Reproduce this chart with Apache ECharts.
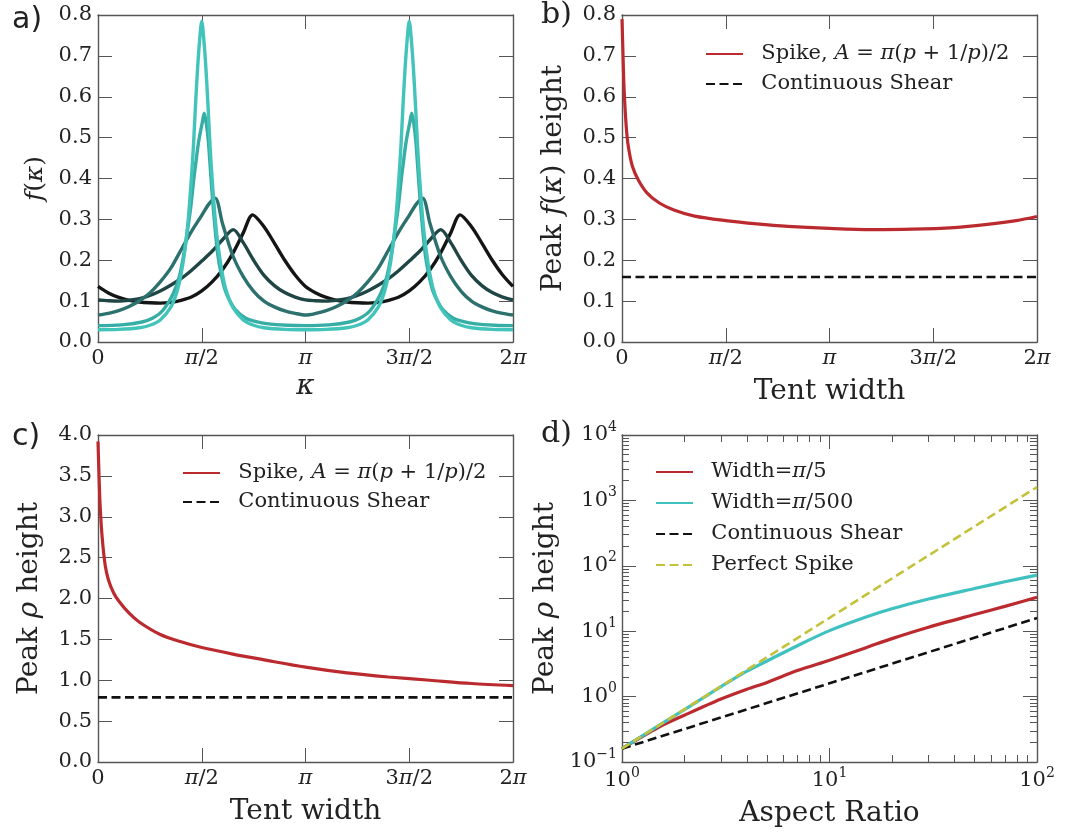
<!DOCTYPE html>
<html>
<head>
<meta charset="utf-8">
<script src="https://cdn.jsdelivr.net/npm/echarts@6/dist/echarts.min.js"></script>
<style>
  html, body { margin: 0; padding: 0; background: #fff; }
  #chart { width: 1081px; height: 839px; }
</style>
</head>
<body>
<div id="chart"></div>
<script>
// a) f(kappa) read over one period (kappa in units of pi), the 2nd period repeats it
const kappaA1 = [0, 0.1, 0.2, 0.25, 0.3, 0.35, 0.38, 0.4, 0.42, 0.435, 0.45, 0.46, 0.47, 0.48, 0.49, 0.5, 0.51, 0.52, 0.53, 0.54, 0.55, 0.565, 0.58, 0.6, 0.62, 0.65, 0.7, 0.75, 0.8, 0.9, 1.0];
const fA1 = [0.030, 0.031, 0.035, 0.041, 0.054, 0.085, 0.122, 0.165, 0.23, 0.30, 0.40, 0.48, 0.58, 0.67, 0.74, 0.785, 0.74, 0.67, 0.58, 0.48, 0.40, 0.30, 0.23, 0.165, 0.122, 0.085, 0.054, 0.041, 0.035, 0.031, 0.030];
const kappaA2 = [0, 0.112, 0.212, 0.262, 0.312, 0.362, 0.392, 0.412, 0.432, 0.447, 0.462, 0.472, 0.482, 0.492, 0.502, 0.512, 0.522, 0.532, 0.542, 0.552, 0.562, 0.577, 0.592, 0.612, 0.632, 0.662, 0.712, 0.762, 0.812, 0.912, 1.0];
const fA2 = [0.040, 0.042, 0.049, 0.058, 0.077, 0.118, 0.16, 0.21, 0.275, 0.33, 0.40, 0.44, 0.48, 0.51, 0.535, 0.56, 0.535, 0.49, 0.42, 0.35, 0.29, 0.215, 0.17, 0.128, 0.104, 0.079, 0.058, 0.05, 0.045, 0.041, 0.040];
const kappaA3 = [0, 0.05, 0.1, 0.15, 0.2, 0.25, 0.3, 0.35, 0.4, 0.45, 0.5, 0.535, 0.565, 0.6, 0.65, 0.7, 0.75, 0.8, 0.85, 0.9, 0.95, 1.0];
const fA3 = [0.066, 0.07, 0.077, 0.087, 0.101, 0.12, 0.147, 0.18, 0.225, 0.27, 0.31, 0.338, 0.352, 0.29, 0.211, 0.16, 0.124, 0.1, 0.086, 0.076, 0.07, 0.066];
const kappaA4 = [0, 0.05, 0.1, 0.15, 0.2, 0.25, 0.3, 0.35, 0.4, 0.45, 0.5, 0.55, 0.6, 0.652, 0.7, 0.75, 0.8, 0.85, 0.9, 0.95, 1.0];
const fA4 = [0.103, 0.101, 0.100, 0.102, 0.106, 0.114, 0.125, 0.139, 0.155, 0.175, 0.198, 0.222, 0.25, 0.275, 0.243, 0.2, 0.163, 0.138, 0.121, 0.11, 0.103];
const kappaA5 = [0, 0.05, 0.1, 0.15, 0.2, 0.25, 0.3, 0.35, 0.4, 0.45, 0.5, 0.55, 0.6, 0.65, 0.7, 0.745, 0.8, 0.85, 0.9, 0.95, 1.0];
const fA5 = [0.136, 0.12, 0.109, 0.102, 0.098, 0.096, 0.095, 0.097, 0.102, 0.11, 0.125, 0.147, 0.177, 0.217, 0.267, 0.311, 0.282, 0.242, 0.2, 0.164, 0.136];
const curveColors = ['#42c4ba', '#36ada5', '#2c716d', '#1f4544', '#141616'];

// b) peak f(kappa) height vs tent width (units of pi)
const tentB = [0, 0.005, 0.01, 0.02, 0.03, 0.05, 0.08, 0.12, 0.18, 0.25, 0.35, 0.5, 0.65, 0.8, 1.0, 1.2, 1.4, 1.6, 1.75, 1.9, 2.0];
const peakB = [0.79, 0.70, 0.62, 0.53, 0.48, 0.43, 0.395, 0.365, 0.34, 0.323, 0.308, 0.297, 0.289, 0.283, 0.278, 0.275, 0.276, 0.28, 0.287, 0.297, 0.307];
const shearB = 0.159;

// c) peak rho height vs tent width
const tentC = [0, 0.005, 0.01, 0.02, 0.035, 0.05, 0.075, 0.1, 0.15, 0.2, 0.3, 0.4, 0.5, 0.65, 0.8, 1.0, 1.2, 1.4, 1.6, 1.8, 2.0];
const peakC = [3.92, 3.5, 3.15, 2.75, 2.4, 2.23, 2.07, 1.97, 1.82, 1.71, 1.56, 1.47, 1.40, 1.32, 1.25, 1.16, 1.09, 1.04, 1.0, 0.96, 0.935];
const shearC = 0.79;

// d) peak rho height vs aspect ratio (log-log)
const aspectD = [1, 1.5, 2, 3, 4, 5, 7, 10, 15, 20, 30, 50, 70, 100];
const widthPi5 = [0.16, 0.34, 0.52, 0.92, 1.3, 1.65, 2.5, 3.6, 5.6, 7.7, 11.5, 18, 24, 33];
const widthPi500 = [0.16, 0.36, 0.63, 1.42, 2.45, 3.5, 6.0, 10.2, 16.5, 22, 31, 45, 57, 72];
const aspectEnds = [1, 100];
const shearD = [0.16, 15.9];
const perfectSpike = [0.16, 1600];

const SERIF = 'DejaVu Serif';
const TXT = '#222';
const AXIS = '#555';
const RED = '#bb2a2e';

const piTicks = { 0: '0', 0.5: '{i|π}/2', 1: '{i|π}', 1.5: '3{i|π}/2', 2: '2{i|π}' };
const sup = (v) => '{b|10}{s|' + (v < 0 ? '−' + (-v) : v) + '}';

const tickStyle = { color: AXIS, width: 1 };
const labelRich = {
  i: { fontFamily: SERIF, fontStyle: 'italic', fontSize: 21, color: TXT },
  b: { fontFamily: SERIF, fontSize: 21, color: TXT, lineHeight: 30 },
  s: { fontFamily: SERIF, fontSize: 14, color: TXT, lineHeight: 16, verticalAlign: 'top' },
};
const nameRich = {
  i: { fontFamily: SERIF, fontStyle: 'italic', fontSize: 28, color: TXT },
  j: { fontFamily: SERIF, fontStyle: 'italic', fontSize: 25, color: TXT },
  r: { fontFamily: SERIF, fontSize: 25, color: TXT },
};

function sideAxis(gridIndex, position, range, extra) {
  return Object.assign({
    type: 'value', gridIndex, position,
    min: range[0], max: range[1], interval: range[2],
    axisLine: { show: true, onZero: false, lineStyle: { color: AXIS, width: 1.4 } },
    axisTick: { show: true, inside: true, length: 14, lineStyle: tickStyle },
    axisLabel: { show: false },
    splitLine: { show: false },
  }, extra || {});
}
function labels(formatter, margin) {
  return {
    show: true, formatter, margin, color: TXT, fontFamily: SERIF, fontSize: 21,
    showMinLabel: true, showMaxLabel: true, rich: labelRich,
  };
}
function axisName(name, gap, size) {
  return {
    name, nameLocation: 'middle', nameGap: gap,
    nameTextStyle: { fontFamily: SERIF, fontSize: size, color: TXT, rich: nameRich },
  };
}

const piFmt = (v) => piTicks[v] !== undefined ? piTicks[v] : '';
const oneDec = (v) => v.toFixed(1);

const xAxes = [];
const yAxes = [];
// a
xAxes.push(sideAxis(0, 'bottom', [0, 2, 0.5], Object.assign({ axisLabel: labels(piFmt, 6) }, axisName('{i|κ}', 31, 26))));
xAxes.push(sideAxis(0, 'top', [0, 2, 0.5]));
yAxes.push(sideAxis(0, 'left', [0, 0.8, 0.1], Object.assign({ axisLabel: labels(oneDec, 6) }, axisName('{j|f}{r|(}{j|κ}{r|)}', 50, 25))));
yAxes.push(sideAxis(0, 'right', [0, 0.8, 0.1]));
// b
xAxes.push(sideAxis(1, 'bottom', [0, 2, 0.5], Object.assign({ axisLabel: labels(piFmt, 6) }, axisName('Tent width', 36, 28))));
xAxes.push(sideAxis(1, 'top', [0, 2, 0.5]));
yAxes.push(sideAxis(1, 'left', [0, 0.8, 0.1], Object.assign({ axisLabel: labels(oneDec, 6) }, axisName('Peak {i|f}({i|κ}) height', 54, 28))));
yAxes.push(sideAxis(1, 'right', [0, 0.8, 0.1]));
// c
xAxes.push(sideAxis(2, 'bottom', [0, 2, 0.5], Object.assign({ axisLabel: labels(piFmt, 6) }, axisName('Tent width', 36, 28))));
xAxes.push(sideAxis(2, 'top', [0, 2, 0.5]));
yAxes.push(sideAxis(2, 'left', [0, 4, 0.5], Object.assign({ axisLabel: labels(oneDec, 6) }, axisName('Peak {i|ρ} height', 54, 28))));
yAxes.push(sideAxis(2, 'right', [0, 4, 0.5]));
// d (log10 space)
xAxes.push(sideAxis(3, 'bottom', [0, 2, 1], Object.assign({ axisLabel: labels(sup, 4) }, axisName('Aspect Ratio', 38, 28))));
xAxes.push(sideAxis(3, 'top', [0, 2, 1]));
yAxes.push(sideAxis(3, 'left', [-1, 4, 1], Object.assign({ axisLabel: labels(sup, 5) }, axisName('Peak {i|ρ} height', 62, 28))));
yAxes.push(sideAxis(3, 'right', [-1, 4, 1]));

const minorX = [];
for (let n = 0; n < 2; n++) for (let k = 2; k <= 9; k++) minorX.push(n + Math.log10(k));
const minorY = [];
for (let n = -1; n < 4; n++) for (let k = 2; k <= 9; k++) minorY.push(n + Math.log10(k));
const minorAxis = (vals) => ({
  axisLine: { show: false, onZero: false },
  axisTick: { show: true, inside: true, length: 7, lineStyle: tickStyle, customValues: vals },
});
xAxes.push(sideAxis(3, 'bottom', [0, 2, 1], minorAxis(minorX)));
xAxes.push(sideAxis(3, 'top', [0, 2, 1], minorAxis(minorX)));
yAxes.push(sideAxis(3, 'left', [-1, 4, 1], minorAxis(minorY)));
yAxes.push(sideAxis(3, 'right', [-1, 4, 1], minorAxis(minorY)));

function periodic(ts, vs) {
  const first = ts.map((t, i) => [t, vs[i]]);
  return first.concat(ts.slice(1).map((t, i) => [t + 1, vs[i + 1]]));
}
const pairs = (xs, ys) => xs.map((x, i) => [x, ys[i]]);
const logPairs = (xs, ys) => xs.map((x, i) => [Math.log10(x), Math.log10(ys[i])]);

function line(name, panel, data, color, extra) {
  return Object.assign({
    name, type: 'line', xAxisIndex: panel * 2, yAxisIndex: panel * 2, data,
    symbol: 'none', showSymbol: false, smooth: 0.3,
    lineStyle: { color, width: 3.2 }, itemStyle: { color },
  }, extra || {});
}
const dashed = (color) => ({ smooth: false, lineStyle: { color, width: 2.6, type: [9, 4.5] } });

const kappaCurves = [[kappaA5, fA5], [kappaA4, fA4], [kappaA3, fA3], [kappaA2, fA2], [kappaA1, fA1]];
const series = kappaCurves.map((c, i) => line('f' + i, 0, periodic(c[0], c[1]), curveColors[4 - i], {
  lineStyle: { color: curveColors[4 - i], width: 3.4 },
}));
series.push(line('Spike', 1, pairs(tentB, peakB), RED));
series.push(line('Continuous Shear', 1, [[0, shearB], [2, shearB]], '#111', dashed('#111')));
series.push(line('Spike', 2, pairs(tentC, peakC), RED));
series.push(line('Continuous Shear', 2, [[0, shearC], [2, shearC]], '#111', dashed('#111')));
series.push(line('Width=π/5', 3, logPairs(aspectD, widthPi5), RED));
series.push(line('Width=π/500', 3, logPairs(aspectD, widthPi500), '#3fc1c0'));
series.push(line('Continuous Shear', 3, logPairs(aspectEnds, shearD), '#111', dashed('#111')));
series.push(line('Perfect Spike', 3, logPairs(aspectEnds, perfectSpike), '#c3c23a', dashed('#c3c23a')));

const legendRich = {
  i: { fontFamily: SERIF, fontStyle: 'italic', fontSize: 21, color: TXT },
};
const legendFmt = (name) => '  ' + (name === 'Spike'
  ? 'Spike, {i|A} = {i|π}({i|p} + 1/{i|p})/2'
  : name.replace('π', '{i|π}'));
function legend(left, top, gap, names) {
  return {
    left, top, orient: 'vertical', itemGap: gap, itemWidth: 37, itemHeight: 14,
    selectedMode: false, data: names, formatter: legendFmt,
    itemStyle: { opacity: 0 },
    textStyle: { fontFamily: SERIF, fontSize: 21, color: TXT, lineHeight: 24, rich: legendRich },
  };
}

const chart = echarts.init(document.getElementById('chart'));
chart.setOption({
  animation: false,
  backgroundColor: '#fff',
  grid: [
    { left: 98, top: 15, width: 415, height: 327 },
    { left: 622, top: 15, width: 415, height: 327 },
    { left: 98, top: 435, width: 415, height: 327 },
    { left: 622, top: 435, width: 415, height: 327 },
  ],
  xAxis: xAxes,
  yAxis: yAxes,
  legend: [
    legend(700, 37, 6, ['Spike', 'Continuous Shear']),
    legend(177, 456, 5, ['Spike', 'Continuous Shear']),
    legend(650, 455, 7, ['Width=π/5', 'Width=π/500', 'Continuous Shear', 'Perfect Spike']),
  ],
  graphic: [
    { type: 'text', left: 12, top: 5, style: { text: 'a)', font: '30px "DejaVu Sans"', fill: TXT } },
    { type: 'text', left: 541, top: 0, style: { text: 'b)', font: '30px "DejaVu Serif"', fill: TXT } },
    { type: 'text', left: 12, top: 422, style: { text: 'c)', font: '30px "DejaVu Sans"', fill: TXT } },
    { type: 'text', left: 541, top: 419, style: { text: 'd)', font: '30px "DejaVu Serif"', fill: TXT } },
  ],
  series,
});
</script>
</body>
</html>
